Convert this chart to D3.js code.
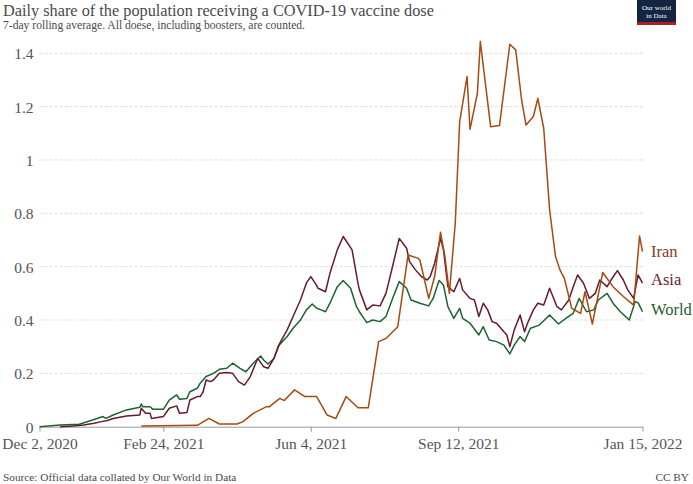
<!DOCTYPE html>
<html><head><meta charset="utf-8">
<script src="https://cdn.jsdelivr.net/npm/d3@7"></script>
<style>
body{margin:0;background:#fff;}
svg{display:block;font-family:"Liberation Serif","DejaVu Serif",serif;}
</style></head>
<body><svg id="chart" width="693" height="484"></svg>
<script>
// ---- data (days since Dec 2, 2020 ; share of population, %) ----
const startDate = new Date(2020, 11, 2);
const endDay = 409; // Jan 15, 2022
const yTicks = [0, 0.2, 0.4, 0.6, 0.8, 1, 1.2, 1.4];
const xTickDates = ["2020-12-02", "2021-02-24", "2021-06-04", "2021-09-12", "2022-01-15"];
const xTickLabels = ["Dec 2, 2020", "Feb 24, 2021", "Jun 4, 2021", "Sep 12, 2021", "Jan 15, 2022"];
const seriesNames = ["Iran", "Asia", "World"];

const worldDays = [0,14,27,36,43,45,50,59,68,69,70,75,77,84,88,93,95,100,102,107,109,113,118,122,127,131,136,140,145,150,152,155,159,162,168,172,177,181,185,188,191,194,197,202,206,211,215,217,222,226,231,235,240,244,249,252,258,264,267,271,274,277,281,285,287,292,298,301,305,310,315,319,322,326,329,333,339,346,352,357,362,366,371,376,379,385,389,394,400,404,406,409];
const worldValues = [0,0.006,0.009,0.025,0.038,0.031,0.044,0.063,0.073,0.085,0.075,0.075,0.065,0.065,0.1,0.119,0.103,0.106,0.131,0.144,0.163,0.188,0.2,0.215,0.219,0.238,0.219,0.206,0.238,0.265,0.25,0.235,0.256,0.303,0.338,0.369,0.4,0.438,0.46,0.444,0.438,0.431,0.463,0.525,0.548,0.519,0.45,0.431,0.39,0.4,0.394,0.413,0.488,0.544,0.519,0.475,0.463,0.453,0.481,0.548,0.531,0.45,0.406,0.444,0.406,0.388,0.344,0.375,0.325,0.319,0.306,0.273,0.306,0.338,0.319,0.369,0.381,0.419,0.385,0.406,0.425,0.481,0.431,0.438,0.475,0.5,0.463,0.431,0.4,0.469,0.465,0.431];

const asiaDays = [14,23,30,37,42,46,50,59,68,69,72,75,76,84,88,93,95,100,102,107,109,111,113,116,118,122,127,131,135,139,143,148,152,155,159,163,168,172,177,181,184,187,189,194,197,202,206,212,216,217,222,226,231,235,240,244,249,251,255,259,263,265,268,272,274,277,281,285,287,292,295,298,301,304,307,310,315,317,319,322,326,329,331,335,338,342,346,351,354,359,362,365,369,373,377,380,385,388,392,396,399,403,406,409];
const asiaValues = [0,0.003,0.006,0.013,0.019,0.023,0.031,0.04,0.044,0.069,0.05,0.05,0.031,0.038,0.069,0.078,0.05,0.053,0.1,0.113,0.113,0.131,0.175,0.169,0.175,0.2,0.203,0.2,0.169,0.156,0.188,0.256,0.225,0.219,0.256,0.313,0.363,0.413,0.475,0.538,0.563,0.538,0.519,0.506,0.575,0.663,0.713,0.663,0.538,0.513,0.438,0.456,0.453,0.5,0.613,0.706,0.669,0.619,0.588,0.563,0.55,0.563,0.613,0.706,0.663,0.525,0.506,0.556,0.513,0.481,0.475,0.413,0.463,0.438,0.394,0.388,0.356,0.344,0.3,0.363,0.419,0.356,0.388,0.438,0.463,0.456,0.519,0.45,0.438,0.475,0.525,0.569,0.538,0.481,0.5,0.55,0.525,0.553,0.585,0.55,0.513,0.481,0.569,0.538];

const iranDays = [69,107,115,122,134,138,145,154,156,163,166,173,180,188,195,201,208,216,223,230,235,243,250,257,258,264,268,272,275,278,282,285,290,292,297,299,306,312,319,323,327,330,335,338,342,346,350,353,356,361,367,370,375,382,389,396,403,407,409];
const iranValues = [0.003,0.005,0.031,0.01,0.01,0.019,0.05,0.075,0.075,0.106,0.098,0.138,0.113,0.113,0.044,0.031,0.113,0.071,0.071,0.319,0.331,0.375,0.644,0.631,0.625,0.481,0.563,0.729,0.638,0.5,0.763,1.144,1.313,1.115,1.25,1.444,1.125,1.129,1.434,1.413,1.225,1.131,1.163,1.231,1.119,0.813,0.638,0.588,0.556,0.444,0.425,0.506,0.385,0.578,0.525,0.488,0.456,0.715,0.656];

const colors = {Iran: "#a64a10", Asia: "#651b2d", World: "#1c6330"};
const labelColors = {Iran: "#8c3a1e", Asia: "#5f1f2f", World: "#275e32"};

// ---- layout ----
const svg = d3.select("#chart");
const margin = {left: 39.5, right: 642.5, top: 53.3, bottom: 426.7};
const dayToDate = d => d3.timeDay.offset(startDate, d);
const x = d3.scaleTime().domain([startDate, dayToDate(endDay)]).range([margin.left, margin.right]);
const y = d3.scaleLinear().domain([0, 1.4]).range([margin.bottom, margin.top]);
const parse = d3.timeParse("%Y-%m-%d");

// title
svg.append("text").attr("x", 3).attr("y", 16).attr("font-size", 16.3).attr("fill", "#4a4a4a")
  .text("Daily share of the population receiving a COVID-19 vaccine dose");
svg.append("text").attr("x", 3).attr("y", 29).attr("font-size", 11.6).attr("fill", "#4a4a4a")
  .text("7-day rolling average. All doese, including boosters, are counted.");

// logo
const logo = svg.append("g");
logo.append("rect").attr("x", 637).attr("y", 0).attr("width", 39).attr("height", 22).attr("fill", "#142542");
logo.append("rect").attr("x", 637).attr("y", 22).attr("width", 39).attr("height", 3).attr("fill", "#b11e22");
logo.append("text").attr("x", 656.5).attr("y", 9.5).attr("text-anchor", "middle").attr("font-size", 7).attr("fill", "#fff").text("Our world");
logo.append("text").attr("x", 656.5).attr("y", 18).attr("text-anchor", "middle").attr("font-size", 7).attr("fill", "#fff").text("in Data");

// grid + y labels
const yAxis = d3.axisLeft(y).tickValues(yTicks).tickFormat(d3.format("~g")).tickSize(0);
const yg = svg.append("g").attr("transform", `translate(${margin.left},0)`).call(yAxis);
yg.select(".domain").remove();
yg.selectAll("text").attr("x", -6).attr("font-size", 15.5).attr("fill", "#555").attr("font-family", "Liberation Serif").attr("dy", "0.35em");
svg.append("g").selectAll("line").data(yTicks.filter(d => d > 0)).join("line")
  .attr("x1", margin.left).attr("x2", margin.right).attr("y1", d => y(d)).attr("y2", d => y(d))
  .attr("stroke", "#ddd").attr("stroke-dasharray", "3,2");

// x axis
const xAxis = d3.axisBottom(x).tickValues(xTickDates.map(parse))
  .tickFormat((d, i) => xTickLabels[i]).tickSize(5).tickSizeOuter(0);
const xg = svg.append("g").attr("transform", `translate(0,${margin.bottom})`).call(xAxis);
xg.select(".domain").attr("stroke", "#999");
xg.selectAll(".tick line").attr("stroke", "#999");
xg.selectAll("text").attr("font-size", 15.5).attr("fill", "#555").attr("font-family", "Liberation Serif").attr("dy", "0.95em");

// lines
const line = d3.line().x(d => x(dayToDate(d[0]))).y(d => y(d[1]));
const series = {
  World: d3.zip(worldDays, worldValues),
  Asia: d3.zip(asiaDays, asiaValues),
  Iran: d3.zip(iranDays, iranValues)
};
["World", "Asia", "Iran"].forEach(name => {
  svg.append("path").datum(series[name]).attr("d", line).attr("fill", "none")
    .attr("stroke", colors[name]).attr("stroke-width", 1.5).attr("stroke-linejoin", "round");
});

// legend labels
const labelY = {Iran: 251, Asia: 279, World: 309};
seriesNames.forEach(name => {
  svg.append("text").attr("x", 651).attr("y", labelY[name]).attr("dy", "0.35em")
    .attr("font-size", 16.5).attr("fill", labelColors[name]).text(name);
});

// footer
svg.append("text").attr("x", 3).attr("y", 481).attr("font-size", 11.3).attr("fill", "#4a4a4a")
  .text("Source: Official data collated by Our World in Data");
svg.append("text").attr("x", 689).attr("y", 481).attr("text-anchor", "end").attr("font-size", 11.3).attr("fill", "#4a4a4a")
  .text("CC BY");
</script></body></html>
